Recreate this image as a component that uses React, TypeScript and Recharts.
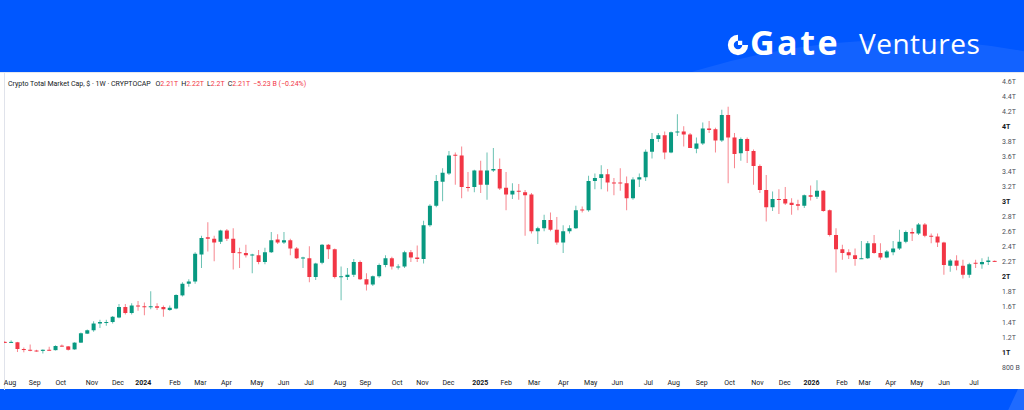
import React from 'react';
import { ComposedChart, Bar, XAxis, YAxis } from 'recharts';

// weekly candles, Aug -> Jul, values in trillions USD
const opens = [
  1.135, 1.125, 1.13, 1.04, 1.03, 1.02, 1.015, 1.03, 1.025, 1.085,
  1.075, 1.035, 1.125, 1.245, 1.29, 1.38, 1.39, 1.4, 1.46, 1.6,
  1.52, 1.62, 1.61, 1.6, 1.61, 1.6, 1.56, 1.58, 1.755, 1.91,
  1.94, 2.3, 2.53, 2.51, 2.47, 2.62, 2.51, 2.33, 2.32, 2.29,
  2.29, 2.2, 2.33, 2.5, 2.46, 2.49, 2.38, 2.25, 2.25, 2.0,
  2.19, 2.43, 2.37, 2.0, 2.0, 2.03, 2.2, 1.97, 1.9, 2.01,
  2.16, 2.25, 2.13, 2.14, 2.33, 2.26, 2.24, 2.69, 2.95, 3.27,
  3.38, 3.63, 3.62, 3.2, 3.2, 3.42, 3.23, 3.42, 3.44, 3.19,
  3.1, 3.15, 3.13, 3.1, 2.61, 2.65, 2.76, 2.63, 2.46, 2.61,
  2.65, 2.9, 2.89, 3.28, 3.32, 3.37, 3.26, 3.26, 3.25, 3.05,
  3.3, 3.33, 3.67, 3.84, 3.89, 3.66, 3.93, 3.94, 3.9, 3.71,
  3.78, 3.98, 3.97, 3.82, 4.16, 3.86, 3.65, 3.84, 3.68, 3.48,
  3.16, 2.93, 3.04, 3.04, 2.99, 2.97, 2.95, 3.09, 3.07, 3.15,
  2.89, 2.56, 2.37, 2.33, 2.29, 2.24, 2.25, 2.45, 2.32, 2.26,
  2.33, 2.38, 2.47, 2.6, 2.58, 2.7, 2.55, 2.54, 2.46, 2.15,
  2.22, 2.15, 2.03, 2.19, 2.17, 2.2, 2.215,
];
const highs = [
  1.145, 1.155, 1.135, 1.06, 1.1, 1.03, 1.035, 1.07, 1.09, 1.1,
  1.08, 1.13, 1.26, 1.3, 1.41, 1.43, 1.43, 1.48, 1.64, 1.64,
  1.65, 1.68, 1.66, 1.81, 1.65, 1.62, 1.62, 1.77, 1.93, 1.97,
  2.33, 2.55, 2.73, 2.55, 2.63, 2.64, 2.65, 2.39, 2.43, 2.31,
  2.36, 2.39, 2.6, 2.57, 2.6, 2.51, 2.4, 2.27, 2.41, 2.19,
  2.44, 2.44, 2.38, 2.14, 2.12, 2.24, 2.22, 2.05, 2.02, 2.18,
  2.29, 2.27, 2.17, 2.35, 2.36, 2.42, 2.75, 2.97, 3.36, 3.45,
  3.68, 3.66, 3.74, 3.4, 3.43, 3.55, 3.66, 3.72, 3.58, 3.4,
  3.25, 3.24, 3.16, 3.12, 2.67, 2.83, 2.86, 2.8, 2.69, 2.69,
  2.95, 2.94, 3.35, 3.38, 3.49, 3.44, 3.32, 3.45, 3.34, 3.33,
  3.38, 3.7, 3.92, 3.92, 3.94, 3.94, 4.17, 4.01, 3.92, 3.86,
  4.06, 4.08, 3.99, 4.23, 4.27, 3.92, 3.86, 3.86, 3.7, 3.5,
  3.36, 3.14, 3.17, 3.2, 3.05, 3.03, 3.1, 3.22, 3.29, 3.16,
  2.9, 2.65, 2.43, 2.37, 2.38, 2.48, 2.48, 2.56, 2.45, 2.36,
  2.48, 2.63, 2.62, 2.65, 2.72, 2.72, 2.58, 2.58, 2.47, 2.24,
  2.29, 2.23, 2.19, 2.23, 2.25, 2.27, 2.22,
];
const lows = [
  1.12, 1.12, 1.0, 0.996, 1.01, 1.005, 0.98, 1.02, 1.02, 1.07,
  1.02, 1.03, 1.12, 1.24, 1.27, 1.32, 1.35, 1.38, 1.45, 1.5,
  1.5, 1.55, 1.49, 1.57, 1.56, 1.47, 1.55, 1.57, 1.74, 1.87,
  1.91, 2.12, 2.34, 2.21, 2.44, 2.48, 2.1, 2.12, 2.26, 2.05,
  2.17, 2.17, 2.32, 2.44, 2.44, 2.29, 2.24, 2.12, 1.93, 1.96,
  2.17, 2.24, 1.98, 1.69, 1.96, 2.0, 1.96, 1.82, 1.88, 1.99,
  2.13, 2.1, 2.1, 2.12, 2.2, 2.2, 2.18, 2.67, 2.93, 3.01,
  3.36, 3.23, 3.05, 3.14, 3.13, 3.12, 3.03, 3.4, 3.16, 2.89,
  3.04, 3.03, 2.55, 2.58, 2.44, 2.61, 2.61, 2.43, 2.32, 2.58,
  2.64, 2.86, 2.87, 3.17, 3.17, 3.14, 3.09, 3.15, 2.89, 3.03,
  3.2, 3.28, 3.58, 3.8, 3.57, 3.65, 3.88, 3.74, 3.72, 3.65,
  3.76, 3.92, 3.66, 3.8, 3.25, 3.45, 3.55, 3.52, 3.23, 3.12,
  2.74, 2.88, 2.84, 2.96, 2.83, 2.89, 2.92, 3.02, 3.04, 2.87,
  2.54, 2.06, 2.23, 2.24, 2.15, 2.24, 2.24, 2.31, 2.23, 2.25,
  2.29, 2.36, 2.45, 2.48, 2.56, 2.53, 2.45, 2.4, 2.03, 2.07,
  2.09, 1.98, 1.99, 2.12, 2.11, 2.16, 2.2,
];
const closes = [
  1.125, 1.135, 1.04, 1.03, 1.02, 1.015, 1.03, 1.025, 1.08, 1.075,
  1.03, 1.125, 1.25, 1.29, 1.38, 1.4, 1.4, 1.47, 1.6, 1.52,
  1.62, 1.61, 1.6, 1.61, 1.59, 1.57, 1.59, 1.76, 1.91, 1.94,
  2.31, 2.52, 2.51, 2.46, 2.62, 2.51, 2.32, 2.32, 2.29, 2.3,
  2.2, 2.33, 2.49, 2.46, 2.49, 2.38, 2.25, 2.26, 2.0, 2.18,
  2.43, 2.37, 2.0, 2.01, 2.03, 2.2, 1.97, 1.9, 2.01, 2.16,
  2.25, 2.14, 2.14, 2.33, 2.26, 2.24, 2.69, 2.95, 3.28, 3.39,
  3.62, 3.62, 3.2, 3.19, 3.42, 3.23, 3.42, 3.44, 3.18, 3.1,
  3.15, 3.14, 3.09, 2.61, 2.65, 2.76, 2.63, 2.46, 2.61, 2.65,
  2.89, 2.89, 3.28, 3.32, 3.37, 3.26, 3.25, 3.25, 3.05, 3.3,
  3.33, 3.67, 3.84, 3.89, 3.66, 3.93, 3.94, 3.9, 3.72, 3.78,
  3.98, 3.96, 3.82, 4.16, 3.86, 3.64, 3.84, 3.68, 3.48, 3.16,
  2.93, 3.04, 3.03, 2.98, 2.96, 2.95, 3.09, 3.07, 3.15, 2.88,
  2.56, 2.37, 2.32, 2.29, 2.24, 2.25, 2.45, 2.32, 2.26, 2.34,
  2.38, 2.47, 2.6, 2.58, 2.7, 2.55, 2.54, 2.46, 2.16, 2.22,
  2.15, 2.03, 2.17, 2.18, 2.2, 2.22, 2.21,
];

// month ticks, positioned in candle index units
const monthTicks = [
  0.8, 4.7, 8.8, 13.7, 17.8, 21.8, 26.8, 30.8, 34.9, 39.7, 43.9, 47.9,
  52.8, 56.8, 61.8, 65.8, 69.9, 74.9, 79, 83.4, 88, 92.3, 96.5, 101.4,
  105.4, 109.8, 114.2, 118.6, 122.9, 127.1, 131.9, 135.5, 139.6, 143.7, 148, 152.7,
];
const monthLabels = [
  'Aug', 'Sep', 'Oct', 'Nov', 'Dec', '2024', 'Feb', 'Mar', 'Apr', 'May', 'Jun', 'Jul',
  'Aug', 'Sep', 'Oct', 'Nov', 'Dec', '2025', 'Feb', 'Mar', 'Apr', 'May', 'Jun', 'Jul',
  'Aug', 'Sep', 'Oct', 'Nov', 'Dec', '2026', 'Feb', 'Mar', 'Apr', 'May', 'Jun', 'Jul',
];
const priceTicks = [0.8, 1, 1.2, 1.4, 1.6, 1.8, 2, 2.2, 2.4, 2.6, 2.8, 3, 3.2, 3.4, 3.6, 3.8, 4, 4.2, 4.4, 4.6];

const GREEN = '#089981';
const RED = '#f23645';
const TEXT = '#131722';

const candles = opens.map((open, i) => ({
  i,
  open,
  high: highs[i],
  low: lows[i],
  close: closes[i],
  range: [lows[i], highs[i]],
}));

const Candle = (props: any) => {
  const { x, y, width, height, payload } = props;
  const { open, close, high, low } = payload;
  const top = Math.min(y, y + height);
  const span = Math.abs(height);
  const perUnit = span / (high - low);
  const color = close >= open ? GREEN : RED;
  const bodyTop = top + (high - Math.max(open, close)) * perUnit;
  const bodyH = Math.max(1, Math.abs(close - open) * perUnit);
  const cx = x + width / 2;
  return (
    <g>
      <line x1={cx} x2={cx} y1={top} y2={top + span} stroke={color} strokeOpacity={0.6} />
      <rect x={x} y={bodyTop} width={width} height={bodyH} fill={color} />
    </g>
  );
};

const MonthTick = (props: any) => {
  const { x, y, index } = props;
  const label = monthLabels[index];
  const isYear = /^\d{4}$/.test(label);
  return (
    <text x={x} y={y} dy="0.71em" textAnchor="middle" fontSize={7} fill={TEXT} fontWeight={isYear ? 700 : 400}>
      {label}
    </text>
  );
};

const PriceTick = (props: any) => {
  const { x, y, payload } = props;
  const v: number = payload.value;
  const label = v < 1 ? `${Math.round(v * 1000)} B` : `${Number(v.toFixed(1))}T`;
  const whole = Number.isInteger(Math.round(v * 10) / 10) && v >= 1;
  return (
    <text x={x} y={y} dy="0.355em" textAnchor="start" fontSize={7} fill={whole ? TEXT : '#4a4e59'} fontWeight={whole ? 700 : 400}>
      {label}
    </text>
  );
};

const GateIcon = () => (
  <svg width={22} height={24} viewBox="0 0 26 26" style={{ position: 'absolute', left: 727, top: 33 }}>
    <path d="M13 1 A12 12 0 1 0 25 13 L18 13 A5 5 0 1 1 13 8 Z" fill="#fff" />
    <rect x={13} y={8} width={5} height={5} fill="#fff" />
  </svg>
);

const App: React.FC = () => {
  return (
    <div
      style={{
        position: 'absolute',
        left: 0,
        top: 0,
        width: 1024,
        height: 410,
        background: '#0057ff',
        overflow: 'hidden',
        fontFamily: 'Roboto, "Noto Sans", sans-serif',
      }}
    >
      <div style={{ position: 'absolute', left: 0, top: 0, width: 1024, height: 72, overflow: 'hidden', color: '#fff', fontFamily: '"Open Sans", sans-serif' }}>
        <div
          style={{
            position: 'absolute',
            left: 208,
            top: 40,
            width: 1384,
            height: 1384,
            borderRadius: '50%',
            background: 'rgba(255,255,255,0.07)',
          }}
        />
        <GateIcon />
        <span style={{ position: 'absolute', left: 750, top: 25, fontSize: 34, fontWeight: 700, letterSpacing: 2.5, lineHeight: '34px', whiteSpace: 'nowrap' }}>
          Gate
        </span>
        <span style={{ position: 'absolute', left: 859, top: 29, fontSize: 28, fontWeight: 400, letterSpacing: 0.5, lineHeight: '28px', whiteSpace: 'nowrap' }}>
          Ventures
        </span>
      </div>

      <div
        style={{
          position: 'absolute',
          left: 1018,
          top: 389,
          width: 120,
          height: 60,
          background: 'rgba(255,255,255,0.12)',
          transform: 'skewX(-25deg)',
          transformOrigin: 'top left',
        }}
      />

      <div style={{ position: 'absolute', left: 0, top: 72, width: 1024, height: 317, background: '#fff', borderTop: '1px solid #e4e8f0', boxSizing: 'border-box' }}>
        <div style={{ position: 'absolute', left: 4, top: 0, width: 1, height: 317, background: '#e0e3eb' }} />
        <ComposedChart
          width={1024}
          height={317}
          data={candles}
          margin={{ top: 3, right: 0, bottom: 0, left: 4 }}
          style={{ position: 'absolute', left: 0, top: -1 }}
        >
          <XAxis
            type="number"
            dataKey="i"
            domain={[-0.15, 156.5]}
            allowDataOverflow
            ticks={monthTicks}
            interval={0}
            tick={<MonthTick />}
            axisLine={false}
            tickLine={false}
            tickSize={0}
            tickMargin={6}
            height={15}
          />
          <YAxis
            orientation="right"
            type="number"
            domain={[0.707, 4.693]}
            allowDataOverflow
            ticks={priceTicks}
            interval={0}
            tick={<PriceTick />}
            axisLine={false}
            tickLine={false}
            tickSize={0}
            tickMargin={4}
            width={26}
          />
          <Bar dataKey="range" barSize={4} shape={<Candle />} isAnimationActive={false} />
        </ComposedChart>
        <div style={{ position: 'absolute', left: 8, top: 7, fontSize: 7, color: TEXT, whiteSpace: 'nowrap', lineHeight: '9px' }}>
          Crypto Total Market Cap, $ · 1W · CRYPTOCAP{'  '}
          <span style={{ marginLeft: 3 }}>O</span>
          <span style={{ color: RED }}>2.21T</span>
          <span style={{ marginLeft: 3 }}>H</span>
          <span style={{ color: RED }}>2.22T</span>
          <span style={{ marginLeft: 3 }}>L</span>
          <span style={{ color: RED }}>2.2T</span>
          <span style={{ marginLeft: 3 }}>C</span>
          <span style={{ color: RED }}>2.21T</span>
          <span style={{ color: RED, marginLeft: 3 }}>−5.23 B (−0.24%)</span>
        </div>
      </div>
    </div>
  );
};

export default App;
